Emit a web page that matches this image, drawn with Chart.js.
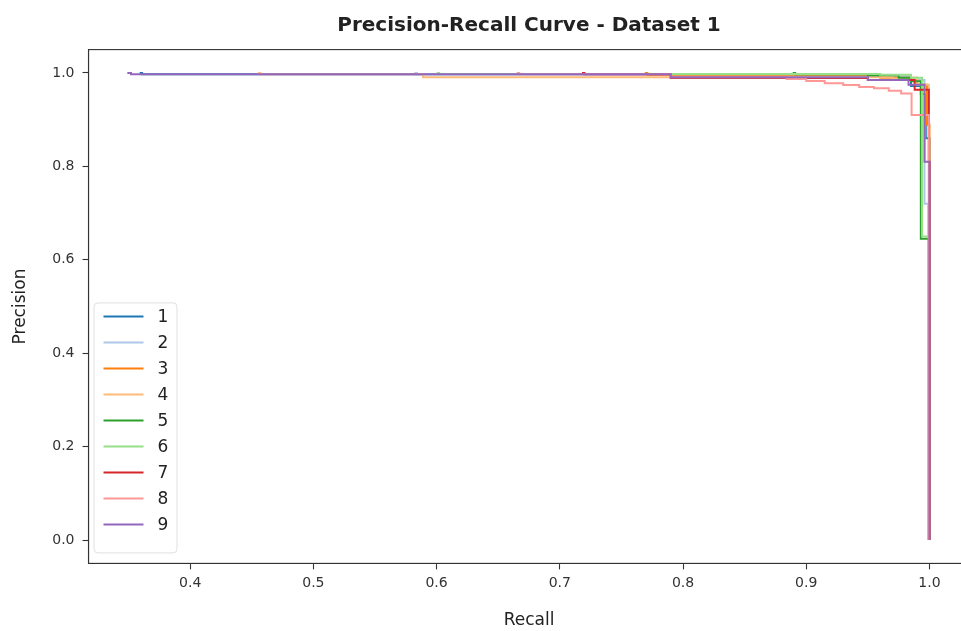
<!DOCTYPE html>
<html>
<head>
<meta charset="utf-8">
<script src="https://cdn.jsdelivr.net/npm/chart.js@4"></script>
<style>
  html, body { margin: 0; padding: 0; background: #fff; overflow: hidden; }
  #wrap { width: 961px; height: 631px; overflow: hidden; position: relative; }
  canvas { display: block; }
</style>
</head>
<body>
<div id="wrap"><canvas id="c" width="972" height="631"></canvas></div>
<script>
// ---- Data ----
const chartTitle = 'Precision-Recall Curve - Dataset 1';
const xTitle = 'Recall';
const yTitle = 'Precision';
const seriesNames = ['1', '2', '3', '4', '5', '6', '7', '8', '9'];
const seriesColors = ['#1f77b4', '#aec7e8', '#ff7f0e', '#ffbb78', '#2ca02c', '#98df8a', '#d62728', '#ff9896', '#9467bd'];
const xTicks = [0.4, 0.5, 0.6, 0.7, 0.8, 0.9, 1.0];
const yTicks = [0.0, 0.2, 0.4, 0.6, 0.8, 1.0];

const recall1 = [0.359, 0.361, 0.950, 0.975, 0.985, 0.993, 0.997, 1.000];
const precision1 = [1.000, 0.997, 0.994, 0.986, 0.972, 0.955, 0.860, 0.000];

const recall2 = [0.582, 0.584, 0.960, 0.985, 0.996, 0.999];
const precision2 = [1.000, 0.997, 0.993, 0.985, 0.720, 0.000];

const recall3 = [0.769, 0.771, 0.960, 0.990, 0.998, 1.000];
const precision3 = [1.000, 0.996, 0.990, 0.975, 0.889, 0.000];

const recall4 = [0.455, 0.457, 0.589, 0.970, 0.990, 0.9995];
const precision4 = [1.000, 0.997, 0.991, 0.988, 0.975, 0.000];

const recall5 = [0.889, 0.891, 0.950, 0.975, 0.985, 0.993, 0.9995];
const precision5 = [1.000, 0.997, 0.995, 0.990, 0.982, 0.645, 0.000];

const recall6 = [0.600, 0.602, 0.960, 0.985, 0.994, 0.9995];
const precision6 = [1.000, 0.998, 0.996, 0.990, 0.650, 0.000];

const recall7 = [0.718, 0.720, 0.790, 0.950, 0.988, 0.9995, 1.000];
const precision7 = [1.000, 0.997, 0.989, 0.985, 0.964, 0.810, 0.000];

const recall8 = [0.665, 0.667, 0.790, 0.884, 0.900, 0.915, 0.930, 0.943, 0.955, 0.967, 0.977, 0.9855, 0.9995];
const precision8 = [1.000, 0.997, 0.991, 0.987, 0.983, 0.978, 0.974, 0.970, 0.967, 0.962, 0.956, 0.910, 0.000];

const recall9 = [0.349, 0.352, 0.790, 0.950, 0.983, 0.996, 1.000];
const precision9 = [1.000, 0.997, 0.991, 0.985, 0.975, 0.810, 0.000];

const recalls = [recall1, recall2, recall3, recall4, recall5, recall6, recall7, recall8, recall9];
const precisions = [precision1, precision2, precision3, precision4, precision5, precision6, precision7, precision8, precision9];

// ---- Build datasets ----
const datasets = seriesNames.map((name, i) => ({
  label: name,
  data: recalls[i].map((r, j) => ({ x: r, y: precisions[i][j] })),
  borderColor: seriesColors[i],
  backgroundColor: seriesColors[i],
  borderWidth: 2,
  pointRadius: 0,
  stepped: 'before',
  fill: false,
  order: seriesNames.length - i
}));

const FONT = "'DejaVu Sans', sans-serif";

const framePlugin = {
  id: 'frameAndTitle',
  afterDatasetsDraw(chart) {
    const { ctx, chartArea: a } = chart;
    ctx.save();
    // frame
    ctx.strokeStyle = '#333';
    ctx.lineWidth = 1.1;
    ctx.strokeRect(a.left, a.top, a.right - a.left, a.bottom - a.top);
    // legend
    const bx = a.left + 5, bw = 83, rowH = 26, n = seriesNames.length;
    const bh = n * rowH + 16;
    const by = a.bottom - 11 - bh;
    ctx.fillStyle = 'rgba(255,255,255,0.85)';
    ctx.strokeStyle = '#e0e0e0';
    ctx.lineWidth = 1;
    ctx.beginPath();
    ctx.roundRect(bx + 0.5, by + 0.5, bw, bh, 4);
    ctx.fill();
    ctx.stroke();
    ctx.font = '17px ' + FONT;
    ctx.textBaseline = 'middle';
    ctx.textAlign = 'left';
    chart.data.datasets.forEach((ds, i) => {
      const y = by + 14 + rowH * i;
      ctx.strokeStyle = ds.borderColor;
      ctx.lineWidth = 2;
      ctx.beginPath();
      ctx.moveTo(bx + 10, y);
      ctx.lineTo(bx + 50, y);
      ctx.stroke();
      ctx.fillStyle = '#222';
      ctx.fillText(ds.label, bx + 64, y + 1);
    });
    // title
    ctx.font = 'bold 20px ' + FONT;
    ctx.fillStyle = '#222';
    ctx.textAlign = 'center';
    ctx.textBaseline = 'alphabetic';
    ctx.fillText(chartTitle, (a.left + a.right) / 2, 31);
    ctx.restore();
  }
};

new Chart(document.getElementById('c'), {
  type: 'line',
  data: { datasets },
  options: {
    responsive: false,
    animation: false,
    devicePixelRatio: 1,
    layout: { padding: { top: 49.6, right: 2.5, left: 0, bottom: 0 } },
    plugins: { legend: { display: false }, title: { display: false }, tooltip: { enabled: false } },
    scales: {
      x: {
        type: 'linear',
        min: 0.3175,
        max: 1.0325,
        afterFit: (s) => { s.height = 67.6; },
        afterBuildTicks: (s) => { s.ticks = xTicks.map(v => ({ value: v })); },
        ticks: {
          autoSkip: false, maxRotation: 0, padding: 6,
          color: '#333', font: { family: FONT, size: 14 },
          callback: (v) => Number(v).toFixed(1)
        },
        grid: { drawOnChartArea: false, drawTicks: true, tickLength: 6, tickColor: '#333', tickWidth: 1.1 },
        border: { display: true, color: '#333', width: 1.1 },
        title: { display: true, text: xTitle, color: '#222', font: { family: FONT, size: 17 }, padding: { top: 0, bottom: 0 } }
      },
      y: {
        type: 'linear',
        min: -0.05,
        max: 1.05,
        afterFit: (s) => { s.width = 88.5; },
        afterBuildTicks: (s) => { s.ticks = yTicks.map(v => ({ value: v })); },
        ticks: {
          autoSkip: false, padding: 8,
          color: '#333', font: { family: FONT, size: 14 },
          callback: (v) => Number(v).toFixed(1)
        },
        grid: { drawOnChartArea: false, drawTicks: true, tickLength: 6, tickColor: '#333', tickWidth: 1.1 },
        border: { display: true, color: '#333', width: 1.1 },
        title: { display: true, text: yTitle, color: '#222', font: { family: FONT, size: 17 }, padding: { top: 10, bottom: 0 } }
      }
    }
  },
  plugins: [framePlugin]
});
</script>
</body>
</html>
